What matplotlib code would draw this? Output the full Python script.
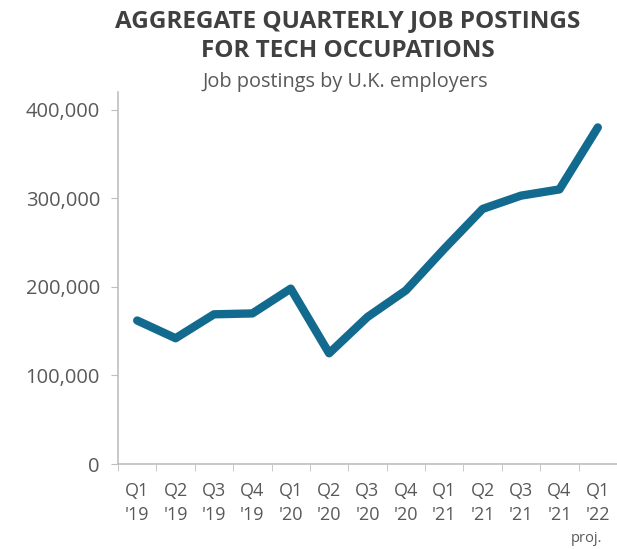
import matplotlib.pyplot as plt
from matplotlib.ticker import FuncFormatter

quarters = ["Q1\n'19", "Q2\n'19", "Q3\n'19", "Q4\n'19", "Q1\n'20", "Q2\n'20", "Q3\n'20",
            "Q4\n'20", "Q1\n'21", "Q2\n'21", "Q3\n'21", "Q4\n'21", "Q1\n'22"]
postings = [162000, 142000, 169000, 170000, 198000, 125000, 166000,
            196000, 243000, 288000, 303000, 310000, 380000]
y_ticks = [0, 100000, 200000, 300000, 400000]

line_color = '#136a8f'
text_gray = '#595959'
axis_gray = '#bfbfbf'

plt.rcParams['font.family'] = ['Open Sans', 'DejaVu Sans']

fig = plt.figure(figsize=(6.17, 5.49), dpi=100)
ax = fig.add_axes([118 / 617, 1 - 464 / 549, 499 / 617, (464 - 92) / 549])

x = list(range(len(postings)))
ax.plot(x, postings, color=line_color, linewidth=6, solid_joinstyle='round',
        solid_capstyle='round')

ax.set_xlim(-0.5, len(postings) - 0.5)
ax.set_ylim(0, 420000)
ax.set_yticks(y_ticks)
ax.yaxis.set_major_formatter(FuncFormatter(lambda v, p: f'{int(v):,}'))

# category labels sit between the boundary tick marks
ax.set_xticks(x)
ax.set_xticklabels(quarters, linespacing=1.4)
ax.set_xticks([i - 0.5 for i in range(len(postings) + 1)], minor=True)
ax.tick_params(axis='x', which='major', length=0, pad=13, labelsize=13, labelcolor=text_gray)
ax.tick_params(axis='x', which='minor', length=5, color=axis_gray, direction='out')
ax.tick_params(axis='y', length=5, color=axis_gray, labelsize=14.5, labelcolor=text_gray, pad=8)

for side in ['top', 'right']:
    ax.spines[side].set_visible(False)
for side in ['left', 'bottom']:
    ax.spines[side].set_color(axis_gray)
    ax.spines[side].set_linewidth(1.2)

ax.text(0.97, -0.2, 'proj.', transform=ax.transAxes, ha='right', va='center',
        fontsize=10.5, color=text_gray)

fig.text(348 / 617, 1 - 21 / 549, 'AGGREGATE QUARTERLY JOB POSTINGS', ha='center', va='center',
         fontsize=17.5, fontweight='bold', color='#404040')
fig.text(348 / 617, 1 - 51 / 549, 'FOR TECH OCCUPATIONS', ha='center', va='center',
         fontsize=17.5, fontweight='bold', color='#404040')
fig.text(345 / 617, 1 - 82 / 549, 'Job postings by U.K. employers', ha='center', va='center',
         fontsize=14.3, color=text_gray)

fig.savefig('out.png', dpi=100)
